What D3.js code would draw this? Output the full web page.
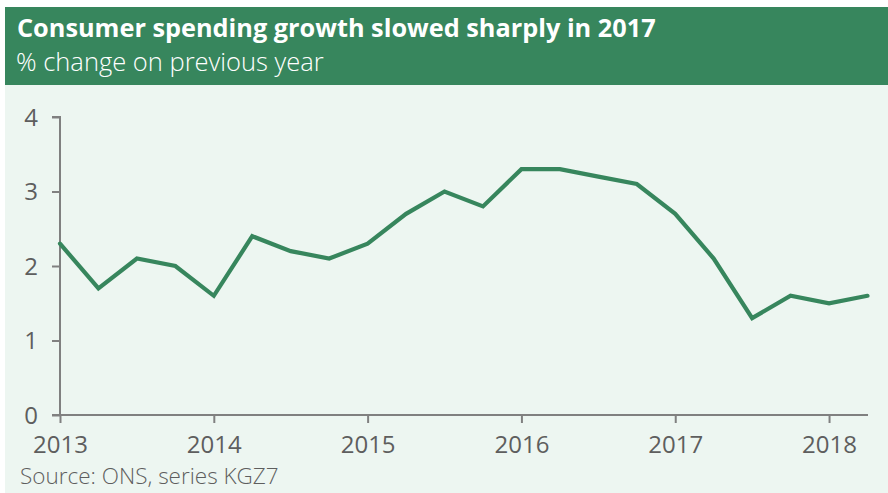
<!DOCTYPE html>
<html>
<head>
<meta charset="utf-8">
<script src="https://cdn.jsdelivr.net/npm/d3@7"></script>
<style>
  html, body { margin: 0; padding: 0; background: #fff; }
  svg { display: block; }
  text { font-family: "Open Sans", "Noto Sans", sans-serif; }
</style>
</head>
<body>
<svg id="chart" width="888" height="493"></svg>
<script>
// Quarterly consumer spending growth, % change on previous year
const quarters = [
  "2013 Q1","2013 Q2","2013 Q3","2013 Q4",
  "2014 Q1","2014 Q2","2014 Q3","2014 Q4",
  "2015 Q1","2015 Q2","2015 Q3","2015 Q4",
  "2016 Q1","2016 Q2","2016 Q3","2016 Q4",
  "2017 Q1","2017 Q2","2017 Q3","2017 Q4",
  "2018 Q1","2018 Q2"
];
const growth = [
  2.3, 1.7, 2.1, 2.0,
  1.6, 2.4, 2.2, 2.1,
  2.3, 2.7, 3.0, 2.8,
  3.3, 3.3, 3.2, 3.1,
  2.7, 2.1, 1.3, 1.6,
  1.5, 1.6
];
const yearTicks = [2013, 2014, 2015, 2016, 2017, 2018];
const valueTicks = [0, 1, 2, 3, 4];

const title = "Consumer spending growth slowed sharply in 2017";
const subtitle = "% change on previous year";
const source = "Source: ONS, series KGZ7";

// quarter label -> fractional year
const toYear = q => {
  const [y, qq] = q.split(" Q");
  return +y + (+qq - 1) / 4;
};
const data = quarters.map((q, i) => ({ t: toYear(q), v: growth[i] }));

const svg = d3.select("#chart");
const green = "#37865d";
const panelBg = "#edf6f1";
const axisGrey = "#808080";
const textGrey = "#5e5e5e";

// panel background
svg.append("rect").attr("x", 5).attr("y", 7).attr("width", 883).attr("height", 486)
  .attr("fill", panelBg);
// header band
svg.append("rect").attr("x", 5).attr("y", 7).attr("width", 883).attr("height", 78)
  .attr("fill", green);

svg.append("text").attr("x", 17).attr("y", 37)
  .attr("fill", "#fff").attr("font-size", 25.3).attr("font-weight", 700)
  .text(title);
svg.append("text").attr("x", 16).attr("y", 71)
  .attr("fill", "#fff").attr("font-size", 25.5).attr("font-weight", 300)
  .text(subtitle);

const x = d3.scaleLinear().domain([2013, 2018.25]).range([60, 867.5]);
const y = d3.scaleLinear().domain([0, 4]).range([415, 117]);

// y axis
const yAxis = svg.append("g").attr("transform", `translate(${x(2013)},0)`)
  .call(d3.axisLeft(y).tickValues(valueTicks).tickFormat(d3.format("d"))
    .tickSize(8).tickSizeOuter(0).tickPadding(14));
yAxis.select(".domain").attr("stroke", axisGrey).attr("stroke-width", 2)
  .attr("d", `M0,${y(0)}V${y(4)}H-8`);
yAxis.selectAll(".tick line").attr("stroke", axisGrey).attr("stroke-width", 2);
yAxis.selectAll(".tick text").attr("fill", textGrey).attr("font-size", 24)
  .attr("font-family", "Open Sans").attr("dy", "0.35em");

// x axis
const xAxis = svg.append("g").attr("transform", `translate(0,${y(0)})`)
  .call(d3.axisBottom(x).tickValues(yearTicks).tickFormat(d3.format("d"))
    .tickSize(8).tickSizeOuter(0).tickPadding(13));
xAxis.select(".domain").attr("stroke", axisGrey).attr("stroke-width", 2)
  .attr("d", `M${x(2013) - 8},0H${x(2018.25) + 0.5}`);
xAxis.selectAll(".tick line").attr("stroke", axisGrey).attr("stroke-width", 2);
xAxis.selectAll(".tick text").attr("fill", textGrey).attr("font-size", 24)
  .attr("font-family", "Open Sans");

// series line
const line = d3.line().x(d => x(d.t)).y(d => y(d.v));
svg.append("path").datum(data)
  .attr("fill", "none").attr("stroke", green).attr("stroke-width", 4.2)
  .attr("stroke-linejoin", "miter").attr("stroke-linecap", "round")
  .attr("d", line);

svg.append("text").attr("x", 20).attr("y", 484)
  .attr("fill", textGrey).attr("font-size", 22.5).attr("font-weight", 300)
  .text(source);
</script>
</body>
</html>
